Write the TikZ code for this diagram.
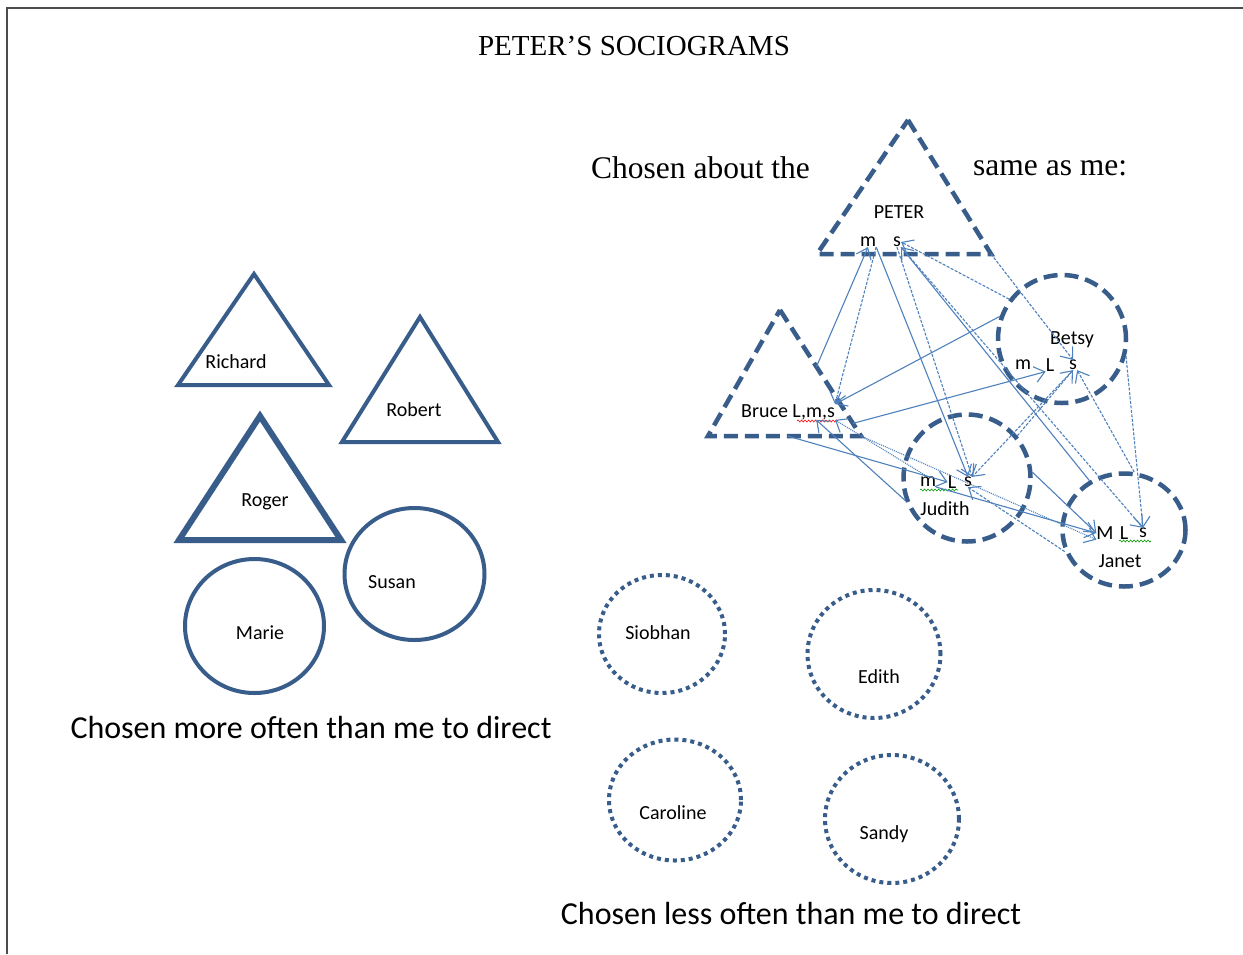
\documentclass[tikz,border=0pt]{standalone}
\usepackage{fontspec}
\setmainfont{Liberation Serif}
\newfontfamily\calib{Carlito}
\usetikzlibrary{arrows.meta,calc,shapes.geometric,decorations.pathmorphing}

\definecolor{shapeblue}{RGB}{56,93,138}
\definecolor{linkblue}{RGB}{79,129,189}

\tikzset{
  person/.style={draw=shapeblue, line width=4pt},
  personring/.style={person, ellipse, inner sep=0pt},
  samegroup/.style={person, line width=4.5pt, dash pattern=on 14pt off 7pt},
  lessgroup/.style={person, dash pattern=on 4pt off 4pt},
  nametag/.style={font=\calib\fontsize{20}{22}\selectfont, inner sep=0pt},
  heading/.style={font=\fontsize{31.5}{34}\selectfont, inner sep=0pt},
  groupcaption/.style={font=\calib\fontsize{32}{36}\selectfont, inner sep=0pt},
  choice/.style={draw=linkblue, line width=1.1pt, -{Straight Barb[length=10pt,width=16pt]}},
  choicedash/.style={choice, dash pattern=on 3pt off 1.5pt},
  choicedot/.style={choice, dash pattern=on 1pt off 1pt},
  squiggle/.style={line width=0.6pt, decorate, decoration={snake, amplitude=1pt, segment length=3.5pt}},
}

\begin{document}
\begin{tikzpicture}[x=1pt, y=-1pt]
  \useasboundingbox (0,0) rectangle (1243,954);
  \fill[white] (0,0) rectangle (1243,954);
  \draw[line width=1.5pt, black!70] (7,954) -- (7,8) -- (1243,8);

  \node[font=\fontsize{29}{32}\selectfont] (title) at (634,46) {PETER'S SOCIOGRAMS};

  % chosen more often
  \coordinate (ricT) at (254,274);
  \coordinate (ricL) at (178,385);
  \coordinate (ricR) at (329,385);
  \draw[person] (ricT) -- (ricR) -- (ricL) -- cycle;
  \node[nametag] (richard) at (236,362) {Richard};

  \coordinate (robT) at (420,317);
  \coordinate (robL) at (342,442);
  \coordinate (robR) at (498,442);
  \draw[person] (robT) -- (robR) -- (robL) -- cycle;
  \node[nametag] (robert) at (414,410) {Robert};

  \coordinate (rogT) at (260,416);
  \coordinate (rogL) at (179,540);
  \coordinate (rogR) at (341,540);
  \draw[person, line width=6pt] (rogT) -- (rogR) -- (rogL) -- cycle;
  \node[nametag] (roger) at (265,502) {Roger};

  \node[personring, minimum width=140pt, minimum height=132pt] (susan) at (414.5,574) {};
  \node[nametag] (susanname) at (392,582) {Susan};
  \node[personring, minimum width=139pt, minimum height=134pt] (marie) at (254.5,626) {};
  \node[nametag] (mariename) at (260,633) {Marie};

  \node[groupcaption] (moretxt) at (311,727) {Chosen more often than me to direct};

  % chosen about the same
  \node[heading, anchor=west] (samel) at (591,168) {Chosen about the};
  \node[heading, anchor=west] (samer) at (973,168) {same as me:};

  \coordinate (petT) at (908,120);
  \coordinate (petL) at (817,254);
  \coordinate (petR) at (991,254);
  \draw[samegroup] (petT) -- (petR) -- (petL) -- cycle;
  \node[nametag] (peter) at (899,212) {PETER};
  \node[nametag] (pm) at (868,242) {m};
  \node[nametag] (ps) at (897,242) {s};

  \coordinate (bruT) at (780,310);
  \coordinate (bruL) at (708,436);
  \coordinate (bruR) at (861,436);
  \draw[samegroup] (bruT) -- (bruR) -- (bruL) -- cycle;
  \node[nametag] (bruce) at (788,412) {Bruce L,m,s};

  \node[personring, samegroup, minimum size=128pt] (betsy) at (1062,339) {};
  \node[nametag] (betsyname) at (1072,340) {Betsy};
  \node[nametag] (bm) at (1023,365) {m};
  \node[nametag] (bl) at (1050,365) {L};
  \node[nametag] (bs) at (1073,365) {s};

  \node[personring, samegroup, minimum size=127pt] (judith) at (967,478) {};
  \node[nametag] (jm) at (928,482) {m};
  \node[nametag] (jl) at (952,482) {L};
  \node[nametag] (js) at (968,482) {s};
  \node[nametag] (judithname) at (945,509) {Judith};

  \node[personring, samegroup, minimum width=123pt, minimum height=113pt] (janet) at (1124,530) {};
  \node[nametag] (jam) at (1105,533) {M};
  \node[nametag] (jal) at (1124,533) {L};
  \node[nametag] (jas) at (1143,533) {s};
  \node[nametag] (janetname) at (1120,561) {Janet};

  \draw[squiggle, red] (797,421) -- (838,421);
  \draw[squiggle, green!60!black] (920,490) -- (958,490);
  \draw[squiggle, green!60!black] (1119,541) -- (1151,541);

  % choices
  \draw[choice] ($(bruT)!0.45!(bruR)$) -- (pm.south);
  \draw[choicedash] (pm.south east) -- (bruce.north east);
  \draw[choice] (pm.south east) -- (js.north);
  \draw[choicedash] (ps.south) -- (js.north east);
  \draw[choicedash] (ps.south east) -- (jas.north);
  \draw[choice] (janet.125) -- (ps.south east);
  \draw[choicedash] (betsy.143) -- (ps.east);
  \draw[choicedash] (petR) -- (bs.north);
  \draw[choice] (betsy.160) -- (bruce.north east);
  \draw[choice] ($(bruT)!0.9!(bruR)$) -- (bl.south west);
  \draw[choicedash] (bs.south) -- (js.north east);
  \draw[choicedash] (judith.40) -- (bs.south);
  \draw[choicedash] (janet.80) -- (bs.south east);
  \draw[choicedash] (betsy.345) -- (jas.north);
  \draw[choice] ($(bruL)!0.52!(bruR)$) -- (jl.west);
  \draw[choice] (judith.200) -- ($(bruce.south)!0.6!(bruce.south east)$);
  \draw[choicedot] (jm.north) -- (bruce.south east);
  \draw[choice] (jm.south east) -- (jam.west);
  \draw[choice] (judith.5) -- (jam.west);
  \draw[choicedot] (bruR) -- (jam.south west);
  \draw[choicedash] (janet.200) -- (js.south);

  % chosen less often
  \node[personring, lessgroup, minimum width=126pt, minimum height=118pt] (siobhan) at (662,634) {};
  \node[nametag] (siobhanname) at (658,633) {Siobhan};
  \node[personring, lessgroup, minimum width=133pt, minimum height=128pt] (edith) at (874,654) {};
  \node[nametag] (edithname) at (879,677) {Edith};
  \node[personring, lessgroup, minimum width=132pt, minimum height=121pt] (caroline) at (675,800) {};
  \node[nametag] (carolinename) at (673,813) {Caroline};
  \node[personring, lessgroup, minimum width=134pt, minimum height=128pt] (sandy) at (892,819) {};
  \node[nametag] (sandyname) at (884,834) {Sandy};

  \node[groupcaption] (lesstxt) at (791,913) {Chosen less often than me to direct};
\end{tikzpicture}
\end{document}
